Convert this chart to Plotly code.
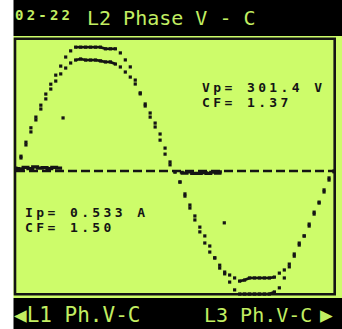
import plotly.graph_objects as go

# ---- waveform capture: one mains cycle, 64 samples over 20 ms ----
PERIOD_MS = 20.0

# phase voltage V-C (volts)
volts = [7, 36, 70, 105, 131, 160, 187, 211, 233, 255, 277, 292,
         301, 301, 301, 301, 301, 301, 297, 297, 297, 287, 270, 253,
         221, 190, 158, 131, 107, 75, 41, 15, -2, -27, -61, -90,
         -119, -148, -175, -197, -211, -229, -250, -270, -289, -299, -299, -299,
         -299, -299, -299, -299, -294, -284, -260, -233, -207, -180, -158, -129,
         -100, -78, -51, -22, -2]

# phase current (amps)
amps = [0.005, 0.062, 0.124, 0.186, 0.243, 0.295, 0.343, 0.390, 0.428, 0.462, 0.490, 0.514,
        0.528, 0.533, 0.528, 0.528, 0.528, 0.524, 0.519, 0.519, 0.509, 0.495, 0.471, 0.447,
        0.414, 0.367, 0.319, 0.276, 0.228, 0.176, 0.109, 0.043, -0.005, -0.052, -0.109, -0.162,
        -0.214, -0.267, -0.309, -0.357, -0.414, -0.462, -0.481, -0.495, -0.509, -0.524, -0.519, -0.509,
        -0.509, -0.509, -0.509, -0.509, -0.505, -0.486, -0.471, -0.443, -0.395, -0.343, -0.309, -0.262,
        -0.205, -0.148, -0.090, -0.033, 0.000]

# residual ripple around the zero line (volts), two short bursts
ripple_a_t = [0.0, 0.3, 0.6, 0.9, 1.2, 1.5, 1.8, 2.1, 2.4, 2.7, 2.9]
ripple_a_v = [6, 5, 9, 6, 10, 7, 8, 6, 9, 7, 7]
ripple_b_t = [10.3, 10.6, 10.9, 11.2, 11.5, 11.8, 12.1, 12.4, 12.7, 12.95]
ripple_b_v = [-3, -5, -2, -6, -6, -4, -6, -3, -5, -2]

# isolated glitch samples (ms, volts)
glitch_t = [2.96, 13.1]
glitch_v = [129, -126]

# readouts
v_peak, v_cf = 301.4, 1.37
i_peak, i_cf = 0.533, 1.50
date_label = "02-22"
title_label = "L2 Phase V - C"
prev_label = "L1 Ph.V-C"
next_label = "L3 Ph.V-C"

# ---- screen geometry (pixels of a 342 x 329 page) ----
W, H = 342, 329
X0_PX, X1_PX = 16.0, 334.0          # t = 0 and t = PERIOD_MS
ZERO_PX = 171.0                      # 0 V / 0 A row
V_PER_PX = 301.4 / 124.0
A_PER_PX = 0.533 / 112.0

LCD = "#cdfc6a"
LCD_TEXT = "#c2ee62"
INK = "#141414"
MONO = "DejaVu Sans Mono"

n = len(volts) - 1
t = [i * PERIOD_MS / n for i in range(len(volts))]

px_per_ms = (X1_PX - X0_PX) / PERIOD_MS
x_range = [-X0_PX / px_per_ms, PERIOD_MS + (W - X1_PX) / px_per_ms]
v_range = [-(H - ZERO_PX) * V_PER_PX, ZERO_PX * V_PER_PX]
a_range = [-(H - ZERO_PX) * A_PER_PX, ZERO_PX * A_PER_PX]


def flat_runs(xs, ys, tol):
    """Join neighbouring samples whose level barely changes (drawn solid on the LCD)."""
    ox, oy = [], []
    for i in range(len(ys) - 1):
        if abs(ys[i + 1] - ys[i]) <= tol:
            ox += [xs[i], xs[i + 1], None]
            oy += [ys[i], ys[i + 1], None]
    return ox, oy


fig = go.Figure()

# zero reference line
fig.add_trace(go.Scatter(x=[0, PERIOD_MS], y=[0, 0], mode="lines",
                         line=dict(color=INK, width=2.6, dash="9px,4px"),
                         hoverinfo="skip", xaxis="x", yaxis="y"))

# ripple bursts
for rt, rv in ((ripple_a_t, ripple_a_v), (ripple_b_t, ripple_b_v)):
    fig.add_trace(go.Scatter(x=rt, y=rv, mode="lines",
                             line=dict(color=INK, width=3.2, shape="hvh"),
                             hoverinfo="skip", xaxis="x", yaxis="y"))

# voltage
fx, fy = flat_runs(t, volts, 2.6 * V_PER_PX)
fig.add_trace(go.Scatter(x=fx, y=fy, mode="lines", line=dict(color=INK, width=2.6),
                         connectgaps=False, hoverinfo="skip", xaxis="x", yaxis="y"))
fig.add_trace(go.Scatter(x=t, y=volts, mode="markers",
                         marker=dict(symbol="square", size=3.2, color=INK, line=dict(width=0)),
                         xaxis="x", yaxis="y"))

# current
fx, fy = flat_runs(t, amps, 2.6 * A_PER_PX)
fig.add_trace(go.Scatter(x=fx, y=fy, mode="lines", line=dict(color=INK, width=2.6),
                         connectgaps=False, hoverinfo="skip", xaxis="x", yaxis="y2"))
fig.add_trace(go.Scatter(x=t, y=amps, mode="markers",
                         marker=dict(symbol="square", size=3.2, color=INK, line=dict(width=0)),
                         xaxis="x", yaxis="y2"))

# glitches
fig.add_trace(go.Scatter(x=glitch_t, y=glitch_v, mode="markers",
                         marker=dict(symbol="square", size=3.2, color=INK, line=dict(width=0)),
                         xaxis="x", yaxis="y"))


def px(x):
    return x / W


def py(y):
    return 1 - y / H


shapes = [
    # LCD panel
    dict(type="rect", xref="paper", yref="paper", x0=px(13.5), x1=1, y0=py(298), y1=py(36),
         fillcolor=LCD, line=dict(width=0), layer="below"),
    # header and footer bars
    dict(type="rect", xref="paper", yref="paper", x0=px(13.5), x1=1, y0=py(36), y1=1,
         fillcolor="black", line=dict(width=0), layer="below"),
    dict(type="rect", xref="paper", yref="paper", x0=px(13.5), x1=1, y0=0, y1=py(298),
         fillcolor="black", line=dict(width=0), layer="below"),
    # scope frame
    dict(type="rect", xref="paper", yref="paper", x0=px(15), x1=px(334.7), y0=py(294.3), y1=py(38.8),
         fillcolor="rgba(0,0,0,0)", line=dict(width=2.6, color=INK), layer="above"),
]


def label(lines, x, y, size, color, anchor="left", spacing=0, bold=False, glyph_size=None):
    """Text on the LCD; glyph_size lets the glyphs differ from the line pitch size."""
    style = []
    if spacing:
        style.append(f"letter-spacing:{spacing}px")
    if glyph_size:
        style.append(f"font-size:{glyph_size}px")
    parts = []
    for line in lines:
        body = f"<b>{line}</b>" if bold else line
        if style:
            body = f'<span style="{";".join(style)}">{body}</span>'
        parts.append(body)
    return dict(text="<br>".join(parts), xref="paper", yref="paper", x=px(x), y=py(y),
                xanchor=anchor, yanchor="middle", align=anchor, showarrow=False,
                font=dict(family=MONO, size=size, color=color),
                borderpad=0)


annotations = [
    label([date_label], 14, 15, 14, LCD_TEXT, spacing=3.2, bold=True),
    label([title_label], 86, 18.5, 20, LCD_TEXT),
    label([f"Vp= {v_peak:.1f} V", f"CF= {v_cf:.2f}"], 201, 95, 11.2, INK,
          spacing=3.4, bold=True, glyph_size=13),
    label([f"Ip= {i_peak:.3f} A", f"CF= {i_cf:.2f}"], 24, 220, 11.2, INK,
          spacing=3.4, bold=True, glyph_size=13),
    label(["\u25C0" + prev_label], 13, 314.5, 21, LCD_TEXT),
    label([next_label], 313, 314.5, 20, LCD_TEXT, anchor="right"),
    label(["\u25B6"], 334, 314.5, 21, LCD_TEXT, anchor="right"),
]

hidden = dict(visible=False, showgrid=False, zeroline=False, fixedrange=True)
fig.update_layout(
    width=W, height=H,
    margin=dict(l=0, r=0, t=0, b=0),
    paper_bgcolor="white", plot_bgcolor="rgba(0,0,0,0)",
    showlegend=False,
    xaxis=dict(domain=[0, 1], range=x_range, **hidden),
    yaxis=dict(domain=[0, 1], range=v_range, **hidden),
    yaxis2=dict(domain=[0, 1], range=a_range, overlaying="y", **hidden),
    shapes=shapes,
    annotations=annotations,
)

fig.write_html("out.html", config=dict(displayModeBar=False))
